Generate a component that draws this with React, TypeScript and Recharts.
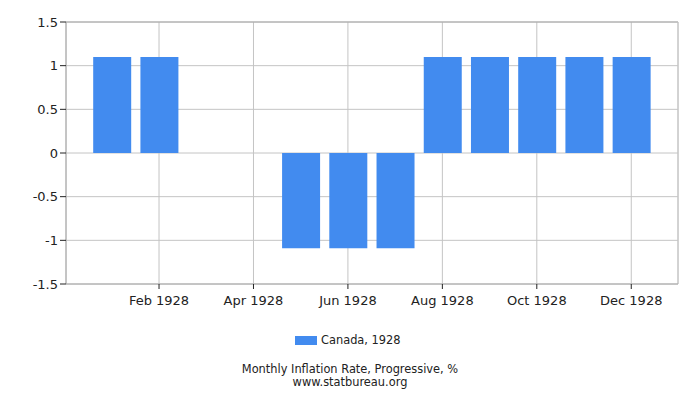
import React from 'react';
import {
  BarChart,
  Bar,
  XAxis,
  YAxis,
  CartesianGrid,
  ReferenceLine,
} from 'recharts';

const months = ['Jan', 'Feb', 'Mar', 'Apr', 'May', 'Jun', 'Jul', 'Aug', 'Sep', 'Oct', 'Nov', 'Dec'];
const inflation = [1.1, 1.1, 0, 0, -1.09, -1.09, -1.09, 1.1, 1.1, 1.1, 1.1, 1.1];
const xTicks = [2, 4, 6, 8, 10, 12];
const yTicks = [-1.5, -1, -0.5, 0, 0.5, 1, 1.5];

const data = months.map((m, i) => ({ month: i + 1, name: m, value: inflation[i] }));

const font = '"DejaVu Sans", sans-serif';
const barColor = '#428bef';

const App: React.FC = () => {
  return (
    <div style={{ position: 'absolute', left: 0, top: 0, width: 700, height: 400, fontFamily: font }}>
      <BarChart
        width={700}
        height={400}
        data={data}
        margin={{ top: 22, right: 22, left: 0, bottom: 86 }}
      >
        <CartesianGrid stroke="#c4c4c4" strokeWidth={1} />
        <XAxis
          dataKey="month"
          type="number"
          domain={[0.03, 12.99]}
          ticks={xTicks}
          tickFormatter={(v: number) => `${months[v - 1]} 1928`}
          axisLine={{ stroke: '#a8a8a8' }}
          tickLine={{ stroke: '#222' }}
          tickSize={5}
          tickMargin={7}
          tick={{ fill: '#222', fontSize: 13, fontFamily: font }}
          height={30}
        />
        <YAxis
          domain={[-1.5, 1.5]}
          ticks={yTicks}
          interval={0}
          width={66}
          axisLine={{ stroke: '#a8a8a8' }}
          tickLine={{ stroke: '#222' }}
          tickSize={6}
          tickMargin={2}
          tick={{ fill: '#222', fontSize: 13, fontFamily: font }}
        />
        <ReferenceLine y={1.5} stroke="#a8a8a8" />
        <ReferenceLine x={12.99} stroke="#c4c4c4" />
        <Bar dataKey="value" fill={barColor} barSize={38} isAnimationActive={false} />
      </BarChart>
      <div
        style={{
          position: 'absolute',
          left: 295,
          top: 333,
          display: 'flex',
          alignItems: 'center',
          fontSize: 11.4,
          color: '#222',
        }}
      >
        <span style={{ display: 'inline-block', width: 22, height: 9, background: barColor, marginRight: 4 }} />
        <span>Canada, 1928</span>
      </div>
      <div
        style={{
          position: 'absolute',
          left: 0,
          top: 363,
          width: 700,
          textAlign: 'center',
          fontSize: 11.4,
          lineHeight: '13px',
          color: '#222',
        }}
      >
        <div>Monthly Inflation Rate, Progressive, %</div>
        <div>www.statbureau.org</div>
      </div>
    </div>
  );
};

export default App;
